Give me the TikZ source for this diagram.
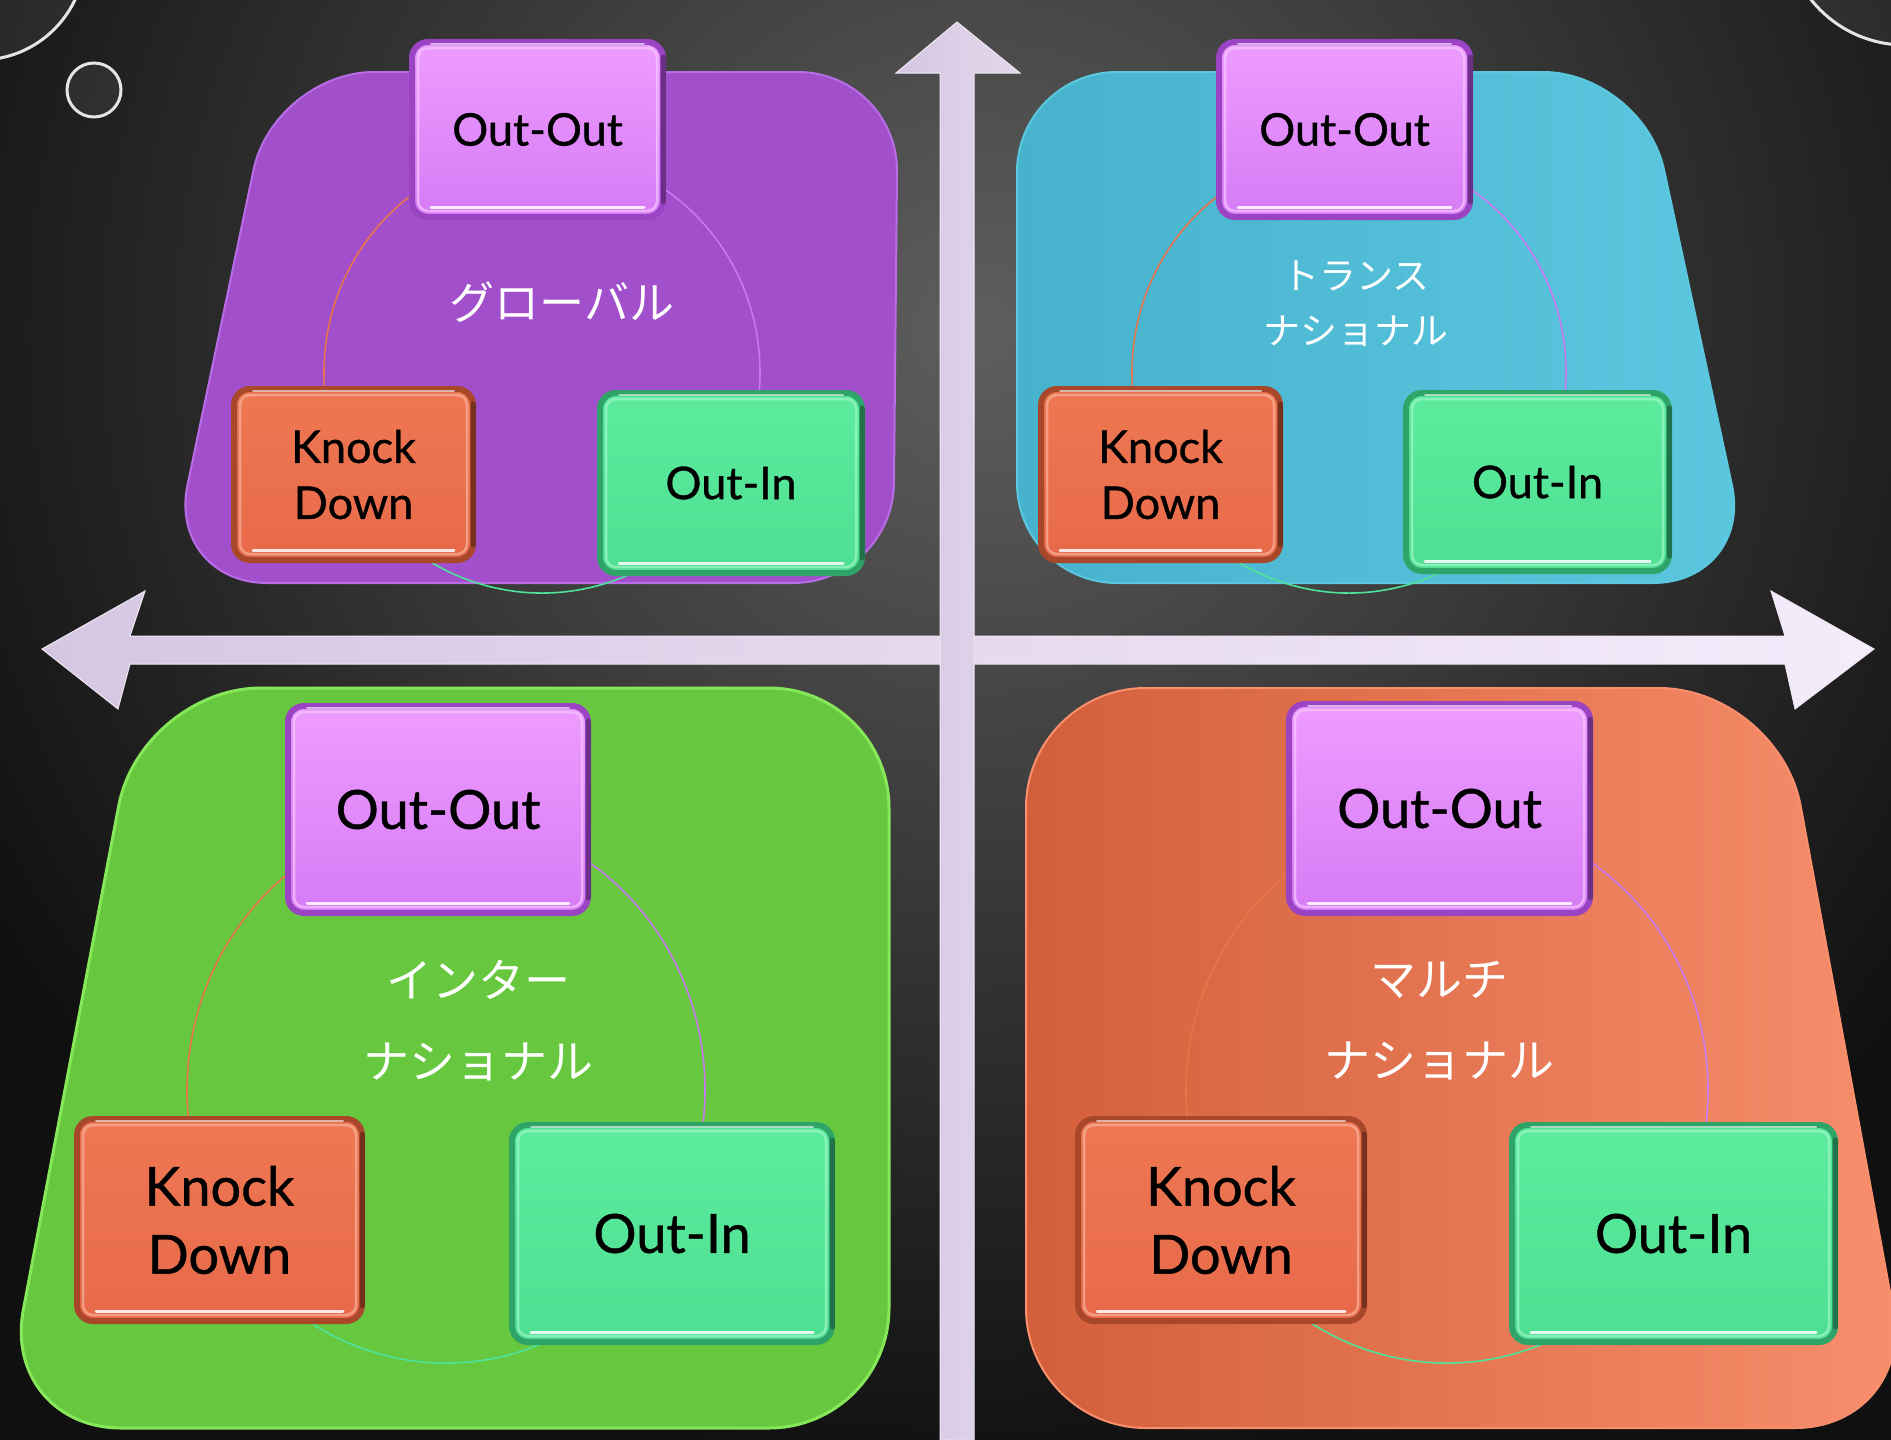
\documentclass[tikz,border=0pt]{standalone}
\usepackage{fontspec}
\setmainfont{Lato}
\newfontfamily\boxfont{Lato}[FakeBold=0.8]
\newfontfamily\jp{Noto Sans CJK JP}
\usetikzlibrary{calc}
\definecolor{bgIn}{HTML}{5E5E5E}
\definecolor{bgOut}{HTML}{101010}
\definecolor{pPan}{HTML}{A24FCB}
\definecolor{pPanE}{HTML}{B86CE6}
\definecolor{cPanL}{HTML}{47B2CC}
\definecolor{cPanR}{HTML}{5CC8E0}
\definecolor{gPan}{HTML}{67C83F}
\definecolor{gPanE}{HTML}{86E858}
\definecolor{oPanL}{HTML}{D35F3A}
\definecolor{oPanR}{HTML}{F88F6D}
\definecolor{ooTop}{HTML}{EE9CFF}
\definecolor{ooBot}{HTML}{D67BF6}
\definecolor{ooEdge}{HTML}{9A44C4}
\definecolor{kdTop}{HTML}{EE7852}
\definecolor{kdBot}{HTML}{E8694A}
\definecolor{kdEdge}{HTML}{A8472A}
\definecolor{oiTop}{HTML}{5DEC9E}
\definecolor{oiBot}{HTML}{4EDF92}
\definecolor{oiEdge}{HTML}{2EA468}
\definecolor{axL}{HTML}{D6C6E2}
\definecolor{axR}{HTML}{F4ECFB}
\definecolor{arcO}{HTML}{E8744C}
\definecolor{arcV}{HTML}{C878F0}
\definecolor{arcG}{HTML}{4FE29A}
\newcommand\bevelbox[2]{%
  \draw[black, opacity=.3, line width=5pt, line cap=round]
    ([xshift=-3pt,yshift=-18pt]#1.north east) -- ([xshift=-3pt,yshift=18pt]#1.south east);
  \draw[#2, line width=2.5pt, rounded corners=10pt, opacity=.75]
    ([xshift=9pt,yshift=-9pt]#1.north west) rectangle ([xshift=-9pt,yshift=9pt]#1.south east);
  \draw[white, line width=3pt, opacity=.85, line cap=round]
    ([xshift=22pt,yshift=13pt]#1.south west) -- ([xshift=-22pt,yshift=13pt]#1.south east);
  \draw[white, line width=2pt, opacity=.6, line cap=round]
    ([xshift=22pt,yshift=-5pt]#1.north west) -- ([xshift=-22pt,yshift=-5pt]#1.north east);
}
\begin{document}
\begin{tikzpicture}[x=1pt,y=-1pt,
  boxbase/.style={rounded corners=16pt, line width=6pt, inner sep=0pt, align=center, text=black},
  oobox/.style={boxbase, draw=ooEdge, top color=ooTop, bottom color=ooBot},
  kdbox/.style={boxbase, draw=kdEdge, top color=kdTop, bottom color=kdBot},
  oibox/.style={boxbase, draw=oiEdge, top color=oiTop, bottom color=oiBot},
  smalltxt/.style={font=\boxfont\fontsize{45}{56}\selectfont},
  bigtxt/.style={font=\boxfont\fontsize{54}{68}\selectfont},
  jplab/.style={text=white, align=center},
  arcline/.style={line width=1.6pt},
  bubble/.style={draw=white!80!gray, line width=3pt, fill=white, fill opacity=.07},
  axisfill/.style={left color=axL, right color=axR, draw=white!60!axL, line width=1pt}
]
\useasboundingbox (0,0) rectangle (1891,1440);
% background
\begin{scope}
\clip (0,0) rectangle (1891,1440);
\fill[bgOut] (0,0) rectangle (1891,1440);
\shade[inner color=bgIn, outer color=bgOut] (980,330) circle (1150);
% bubbles
\draw[bubble] (94,90) circle (27);
\draw[bubble] (-20,-45) circle (105);
\draw[bubble] (1905,-75) circle (120);
\end{scope}

% panels
\fill[pPan, draw=pPanE, line width=2pt, rounded corners=100pt]
  (274,72) -- (898,72) -- (893,583) -- (167,583) -- cycle;
\shade[left color=cPanL, right color=cPanR, draw=cPanR, line width=2pt, rounded corners=100pt]
  (1017,72) -- (1643,72) -- (1753,583) -- (1017,583) -- cycle;
\fill[gPan, draw=gPanE, line width=3pt, rounded corners=120pt]
  (141,688) -- (889,688) -- (889,1428) -- (1,1428) -- cycle;
\shade[left color=oPanL, right color=oPanR, draw=oPanR, line width=2pt, rounded corners=120pt]
  (1026,688) -- (1779,688) -- (1915,1428) -- (1026,1428) -- cycle;

% axes
\shade[axisfill] (42,649) -- (145,591) -- (130,636) -- (1785,636) -- (1771,591)
  -- (1874,649) -- (1795,709) -- (1785,664) -- (130,664) -- (118,709) -- cycle;
\shade[left color=axL, right color=axL!70!white, draw=white!60!axL, line width=1pt]
  (957,22) -- (1020,73) -- (974,73) -- (974,1440) -- (940,1440) -- (940,73) -- (896,73) -- cycle;

% cycle arcs
\coordinate (c1) at (542,372);
\coordinate (c2) at (1349,372);
\coordinate (c3) at (446,1090);
\coordinate (c4) at (1447,1090);
\foreach \c/\rx/\ry in {c1/218/221, c2/217/221, c3/259/273, c4/261/273}{
  \draw[arcline, arcV] (\c) ++(-90:\rx\space and \ry) arc[start angle=-90, end angle=20, x radius=\rx, y radius=\ry];
  \draw[arcline, arcG] (\c) ++(20:\rx\space and \ry) arc[start angle=20, end angle=160, x radius=\rx, y radius=\ry];
  \draw[arcline, arcO] (\c) ++(160:\rx\space and \ry) arc[start angle=160, end angle=270, x radius=\rx, y radius=\ry];
}

% boxes: top-left
\node[oobox, smalltxt, minimum width=251pt, minimum height=175pt] (oo1) at (537.5,129.5) {Out-Out};
\node[kdbox, smalltxt, minimum width=239pt, minimum height=171pt] (kd1) at (353.5,474.5) {Knock\\Down};
\node[oibox, smalltxt, minimum width=262pt, minimum height=180pt] (oi1) at (731,483) {Out-In};
% top-right
\node[oobox, smalltxt, minimum width=251pt, minimum height=175pt] (oo2) at (1344.5,129.5) {Out-Out};
\node[kdbox, smalltxt, minimum width=239pt, minimum height=171pt] (kd2) at (1160.5,474.5) {Knock\\Down};
\node[oibox, smalltxt, minimum width=263pt, minimum height=178pt] (oi2) at (1537.5,482) {Out-In};
% bottom-left
\node[oobox, bigtxt, minimum width=300pt, minimum height=207pt] (oo3) at (438,809.5) {Out-Out};
\node[kdbox, bigtxt, minimum width=285pt, minimum height=202pt] (kd3) at (219.5,1220) {Knock\\Down};
\node[oibox, bigtxt, minimum width=320pt, minimum height=217pt] (oi3) at (672,1233.5) {Out-In};
% bottom-right
\node[oobox, bigtxt, minimum width=301pt, minimum height=209pt] (oo4) at (1439.5,808.5) {Out-Out};
\node[kdbox, bigtxt, minimum width=286pt, minimum height=202pt] (kd4) at (1221,1220) {Knock\\Down};
\node[oibox, bigtxt, minimum width=323pt, minimum height=217pt] (oi4) at (1673.5,1233.5) {Out-In};

\foreach \n in {1,2,3,4}{
  \bevelbox{oo\n}{ooTop!60!white}
  \bevelbox{kd\n}{kdTop!60!white}
  \bevelbox{oi\n}{oiTop!60!white}
}

% labels
\node[jplab, font=\jp\fontsize{45}{55}\selectfont] (lab1) at (562,302) {グローバル};
\node[jplab, font=\jp\fontsize{37}{55}\selectfont] (lab2) at (1356,304) {トランス\\ナショナル};
\node[jplab, font=\jp\fontsize{46}{81}\selectfont] (lab3) at (478,1021) {インター\\ナショナル};
\node[jplab, font=\jp\fontsize{46}{81}\selectfont] (lab4) at (1439,1021) {マルチ\\ナショナル};
\end{tikzpicture}
\end{document}
